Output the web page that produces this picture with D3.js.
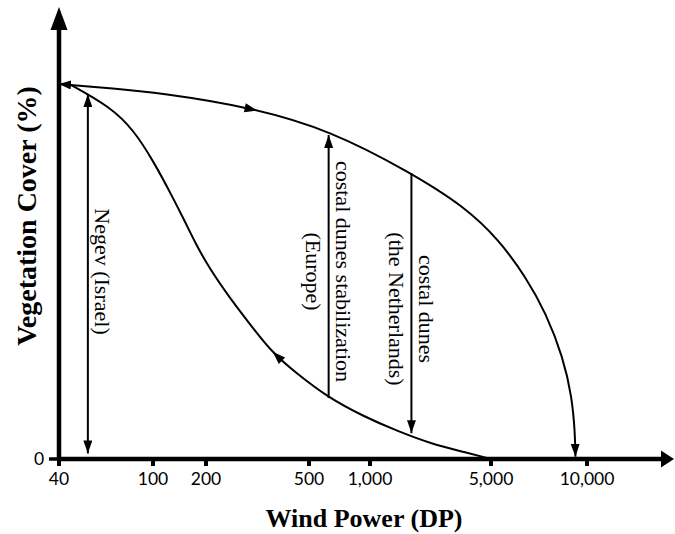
<!DOCTYPE html>
<html>
<head>
<meta charset="utf-8">
<script src="https://cdn.jsdelivr.net/npm/d3@7"></script>
<style>
  body { margin: 0; background: #fff; }
  .tick-label { font-family: Lato, "Open Sans", sans-serif; font-size: 17.5px; fill: #000; }
  .axis-title { font-family: "Liberation Serif", "DejaVu Serif", serif; font-weight: bold; font-size: 26px; fill: #000; }
  .note { font-family: "Liberation Serif", "DejaVu Serif", serif; font-size: 22px; fill: #000; }
</style>
</head>
<body>
<div id="chart"></div>
<script>
// Axis ticks (wind power, DP)
const tickValues = [40, 100, 200, 500, 1000, 5000, 10000];
const tickLabels = ["40", "100", "200", "500", "1,000", "5,000", "10,000"];

// Upper branch: vegetation loss as wind power rises
const upperDP    = [40, 66, 111, 293, 635, 1726, 3538, 5298, 6437, 7433, 8408, 8973, 9169, 9200];
const upperCover = [100, 98.9, 97.6, 93.9, 87.7, 76.3, 67.2, 58.4, 48.5, 38.9, 27.2, 16.5, 6.9, 0.6];

// Lower branch: recovery as wind power falls
const lowerDP    = [44.5, 66, 83, 102, 127, 152, 173, 205, 245, 293, 362, 447, 613, 934, 1447, 2269, 3557, 5000];
const lowerCover = [99.9, 93.9, 87.7, 78.9, 70.5, 63.3, 57.8, 51.1, 43.3, 36.3, 28.2, 22.9, 16.6, 11.3, 7.4, 4.0, 1.8, 0];

// Direction arrows on each branch (DP where they sit)
const upperArrowDP = 300;
const lowerArrowDP = 376;

// Vertical annotation arrows
const noteDP     = [53, 625, 1735];
const noteFrom   = [1.5, 16.3, 76.3];
const noteTo     = [97.3, 86.4, 6.9];
const noteBoth   = [true, false, false];
const noteLines  = [["Negev (Israel)"], ["costal dunes stabilization", "(Europe)"], ["costal dunes", "(the Netherlands)"]];
const noteCenter = [50, 50, 40];

const svgWidth = 675;
const svgHeight = 534;

// Scales: the x axis is hand-spaced, so use a piecewise log scale
const xScale = d3.scaleLog()
    .domain(tickValues)
    .range([59, 153, 206, 309, 370, 491, 587]);

const yScale = d3.scaleLinear()
    .domain([0, 100])
    .range([459, 84]);

const svg = d3.select("#chart")
    .append("svg")
    .attr("width", svgWidth)
    .attr("height", svgHeight);

const defs = svg.append("defs");

function addMarker(id, len, wid) {
  defs.append("marker")
      .attr("id", id)
      .attr("viewBox", `0 0 ${len} ${wid}`)
      .attr("refX", len)
      .attr("refY", wid / 2)
      .attr("markerUnits", "userSpaceOnUse")
      .attr("markerWidth", len)
      .attr("markerHeight", wid)
      .attr("orient", "auto-start-reverse")
    .append("path")
      .attr("d", `M0,0 L${len},${wid / 2} L0,${wid} Z`)
      .attr("fill", "#000");
}
addMarker("head", 13, 9);
addMarker("head-s", 12, 9);

const x0 = xScale(40);
const yBase = yScale(0);

// Axes
svg.append("line")
    .attr("x1", x0).attr("y1", yBase + 2)
    .attr("x2", x0).attr("y2", 28)
    .attr("stroke", "#000").attr("stroke-width", 4.5);
svg.append("path")
    .attr("d", `M${x0},7 L${x0 + 8.5},30 L${x0 - 8.5},30 Z`)
    .attr("fill", "#000");

svg.append("line")
    .attr("x1", x0 - 2).attr("y1", yBase)
    .attr("x2", 664).attr("y2", yBase)
    .attr("stroke", "#000").attr("stroke-width", 4.5);
svg.append("path")
    .attr("d", `M674,${yBase} L661,${yBase - 8.5} L661,${yBase + 8.5} Z`)
    .attr("fill", "#000");

// x ticks and labels
svg.selectAll(".xtick")
  .data(tickValues)
  .join("line")
    .attr("class", "xtick")
    .attr("x1", d => xScale(d)).attr("x2", d => xScale(d))
    .attr("y1", yBase).attr("y2", yBase + 7)
    .attr("stroke", "#000").attr("stroke-width", 4);

svg.selectAll(".xlabel")
  .data(tickValues)
  .join("text")
    .attr("class", "tick-label xlabel")
    .attr("x", d => xScale(d))
    .attr("y", yBase + 26)
    .attr("text-anchor", "middle")
    .text((d, i) => tickLabels[i]);

// y "0" tick
svg.append("line")
    .attr("x1", x0 - 10).attr("x2", x0)
    .attr("y1", yScale(0)).attr("y2", yScale(0))
    .attr("stroke", "#000").attr("stroke-width", 3.5);
svg.append("text")
    .attr("class", "tick-label")
    .attr("x", x0 - 20)
    .attr("y", yScale(0) + 6)
    .attr("text-anchor", "middle")
    .text("0");

// Axis titles
svg.append("text")
    .attr("class", "axis-title")
    .attr("x", 364)
    .attr("y", 527)
    .attr("text-anchor", "middle")
    .text("Wind Power (DP)");

svg.append("text")
    .attr("class", "axis-title")
    .style("font-size", "28px")
    .attr("transform", `translate(36, 216) rotate(-90)`)
    .attr("text-anchor", "middle")
    .text("Vegetation Cover (%)");

// Curves
const line = d3.line()
    .x(d => xScale(d[0]))
    .y(d => yScale(d[1]))
    .curve(d3.curveBasis);

const upper = svg.append("path")
    .attr("d", line(upperDP.map((d, i) => [d, upperCover[i]])))
    .attr("fill", "none")
    .attr("stroke", "#000")
    .attr("stroke-width", 2)
    .attr("marker-start", "url(#head-s)")
    .attr("marker-end", "url(#head)");

const lower = svg.append("path")
    .attr("d", line(lowerDP.map((d, i) => [d, lowerCover[i]])))
    .attr("fill", "none")
    .attr("stroke", "#000")
    .attr("stroke-width", 2);

// Mid-branch direction arrows
function midArrow(path, dp, reverse) {
  const node = path.node();
  const total = node.getTotalLength();
  const tx = xScale(dp);
  let len = 0;
  while (len < total && node.getPointAtLength(len).x < tx) len += 0.5;
  const p = node.getPointAtLength(len);
  const a = node.getPointAtLength(Math.max(0, len - 2));
  const b = node.getPointAtLength(Math.min(total, len + 2));
  let ang = Math.atan2(b.y - a.y, b.x - a.x) * 180 / Math.PI;
  if (reverse) ang += 180;
  svg.append("path")
      .attr("d", "M6,0 L-7,-4.5 L-7,4.5 Z")
      .attr("transform", `translate(${p.x},${p.y}) rotate(${ang})`)
      .attr("fill", "#000");
}
midArrow(upper, upperArrowDP, false);
midArrow(lower, lowerArrowDP, true);

// Vertical annotation arrows
svg.selectAll(".note-line")
  .data(noteDP)
  .join("line")
    .attr("class", "note-line")
    .attr("x1", d => xScale(d)).attr("x2", d => xScale(d))
    .attr("y1", (d, i) => yScale(noteFrom[i]))
    .attr("y2", (d, i) => yScale(noteTo[i]))
    .attr("stroke", "#000")
    .attr("stroke-width", 2)
    .attr("marker-start", (d, i) => noteBoth[i] ? "url(#head)" : null)
    .attr("marker-end", "url(#head)");

// Annotation labels (rotated, reading downwards)
noteDP.forEach((dp, i) => {
  const lines = noteLines[i];
  const g = svg.append("text")
      .attr("class", "note")
      .attr("text-anchor", "middle")
      .attr("transform", `translate(${xScale(dp) + 15}, ${yScale(noteCenter[i])}) rotate(90)`);
  lines.forEach((t, j) => {
    g.append("tspan")
        .attr("x", 0)
        .attr("y", j * 30)
        .attr("dominant-baseline", "central")
        .text(t);
  });
});
</script>
</body>
</html>
